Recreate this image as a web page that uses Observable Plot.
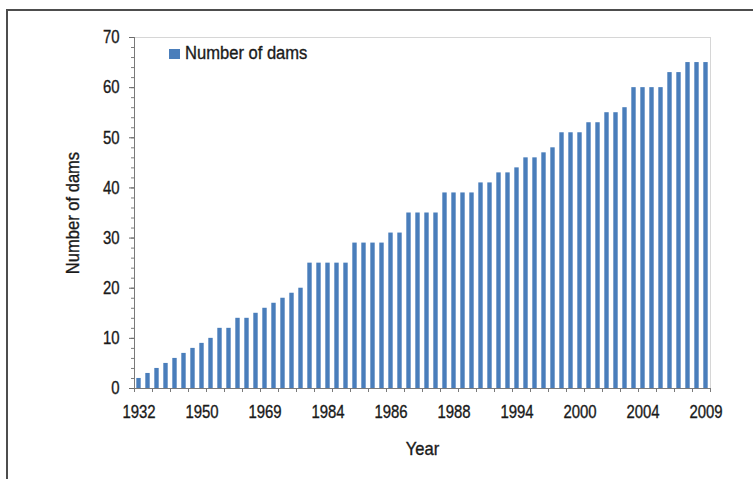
<!DOCTYPE html>
<html>
<head>
<meta charset="utf-8">
<script src="https://cdn.jsdelivr.net/npm/d3@7"></script>
<script src="https://cdn.jsdelivr.net/npm/@observablehq/plot@0.6"></script>
<style>
  body { margin: 0; background: #fff; }
  #wrap { position: relative; width: 753px; height: 479px; overflow: hidden; }
  #frame { position: absolute; left: 6px; top: 9px; width: 820px; height: 520px;
           border-top: 2px solid #4d4d4d; border-left: 2px solid #4d4d4d; pointer-events: none; }
  #legend { position: absolute; left: 169px; top: 43px; display: flex; align-items: center;
            font-family: 'Liberation Sans', Arial, sans-serif; font-size: 18px; color: #1a1a1a;
            -webkit-text-stroke: 0.35px #1a1a1a; }
  #legend .sw { width: 11px; height: 10px; background: #4a7ebb; margin-right: 5px; flex: none; }
  #legendText { display: inline-block; transform: scaleX(0.92); transform-origin: 0 50%; white-space: nowrap; }
  #chart { position: absolute; left: 0; top: 0; }
  #chart svg text { stroke: #1a1a1a; stroke-width: 0.35px; }
</style>
</head>
<body>
<div id="wrap">
  <div id="chart"></div>
  <div id="frame"></div>
  <div id="legend"><span class="sw"></span><span id="legendText"></span></div>
</div>
<script>
// Cumulative number of dams, one bar per category (64 bars)
const dams = [
  2, 3, 4, 5, 6, 7, 8, 9, 10, 12,
  12, 14, 14, 15, 16, 17, 18, 19, 20, 25,
  25, 25, 25, 25, 29, 29, 29, 29, 31, 31,
  35, 35, 35, 35, 39, 39, 39, 39, 41, 41,
  43, 43, 44, 46, 46, 47, 48, 51, 51, 51,
  53, 53, 55, 55, 56, 60, 60, 60, 60, 63,
  63, 65, 65, 65
];
// Labels shown every 7th bar
const tickLabels = ["1932", "1950", "1969", "1984", "1986", "1988", "1994", "2000", "2004", "2009"];
const labelEvery = 7;
const seriesName = "Number of dams";
const xTitle = "Year";
const yTitle = "Number of dams";
const yTicks = [0, 10, 20, 30, 40, 50, 60, 70];

const FONT = "'Liberation Sans', Arial, sans-serif";
const n = dams.length;
const data = dams.map((v, i) => ({i, v}));
const labelPos = tickLabels.map((_, k) => k * labelEvery + 0.5);

document.getElementById("legendText").textContent = seriesName;

const chart = Plot.plot({
  width: 753,
  height: 479,
  marginLeft: 134,
  marginRight: 43,
  marginTop: 37,
  marginBottom: 91,
  style: {fontFamily: FONT, fontSize: "18px", color: "#1a1a1a", background: "transparent", overflow: "visible"},
  x: {domain: [0, n], label: null},
  y: {domain: [0, 70], label: null},
  marks: [
    Plot.frame({stroke: "#d6d6d6"}),
    Plot.rectY(data, {x1: d => d.i, x2: d => d.i + 1, y: "v", insetLeft: 2.3, insetRight: 2.3, fill: "#4a7ebb"}),
    Plot.axisY({ticks: d3.range(0, 71, 2), tickSize: 3, tickFormat: () => "", stroke: "#7a7a7a"}),
    Plot.axisY({ticks: yTicks, tickSize: 5, tickPadding: 10, stroke: "#6a6a6a", fill: "#1a1a1a", fontSize: 18}),
    Plot.axisX({ticks: d3.range(0, n + 1, 2), tickSize: 4, tickFormat: () => "", stroke: "#7a7a7a"}),
    Plot.axisX({ticks: labelPos, tickSize: 0, tickPadding: 17, fill: "#1a1a1a", fontSize: 18,
                tickFormat: d => tickLabels[Math.round((d - 0.5) / labelEvery)]}),
    Plot.ruleX([0], {stroke: "#7a7a7a"}),
    Plot.ruleY([0], {stroke: "#7a7a7a"}),
    Plot.text([xTitle], {text: d => d, frameAnchor: "bottom", dy: 61, lineAnchor: "middle", textAnchor: "middle",
                         fontSize: 18, fill: "#1a1a1a"}),
    Plot.text([yTitle], {text: d => d, frameAnchor: "left", dx: -61, rotate: -90, lineAnchor: "middle", textAnchor: "middle",
                         fontSize: 18, fill: "#1a1a1a"})
  ]
});
document.getElementById("chart").appendChild(chart);

// Condense text horizontally around its anchor to mimic a condensed face
const isNum = v => v != null && /^-?[0-9.]+$/.test(v.trim());
d3.select(chart).selectAll("text").each(function() {
  const content = (this.textContent || "").trim();
  if (!content) return;
  const s = /^[0-9]+$/.test(content) ? 0.83 : 0.92;
  let tx = 0, ty = 0;
  const xa = this.getAttribute("x"), ya = this.getAttribute("y");
  if (isNum(xa)) { tx = +xa; this.removeAttribute("x"); }
  if (isNum(ya)) { ty = +ya; this.removeAttribute("y"); }
  const t = this.getAttribute("transform") || "";
  this.setAttribute("transform", `${t} translate(${tx},${ty}) scale(${s},1)`);
});
</script>
</body>
</html>
